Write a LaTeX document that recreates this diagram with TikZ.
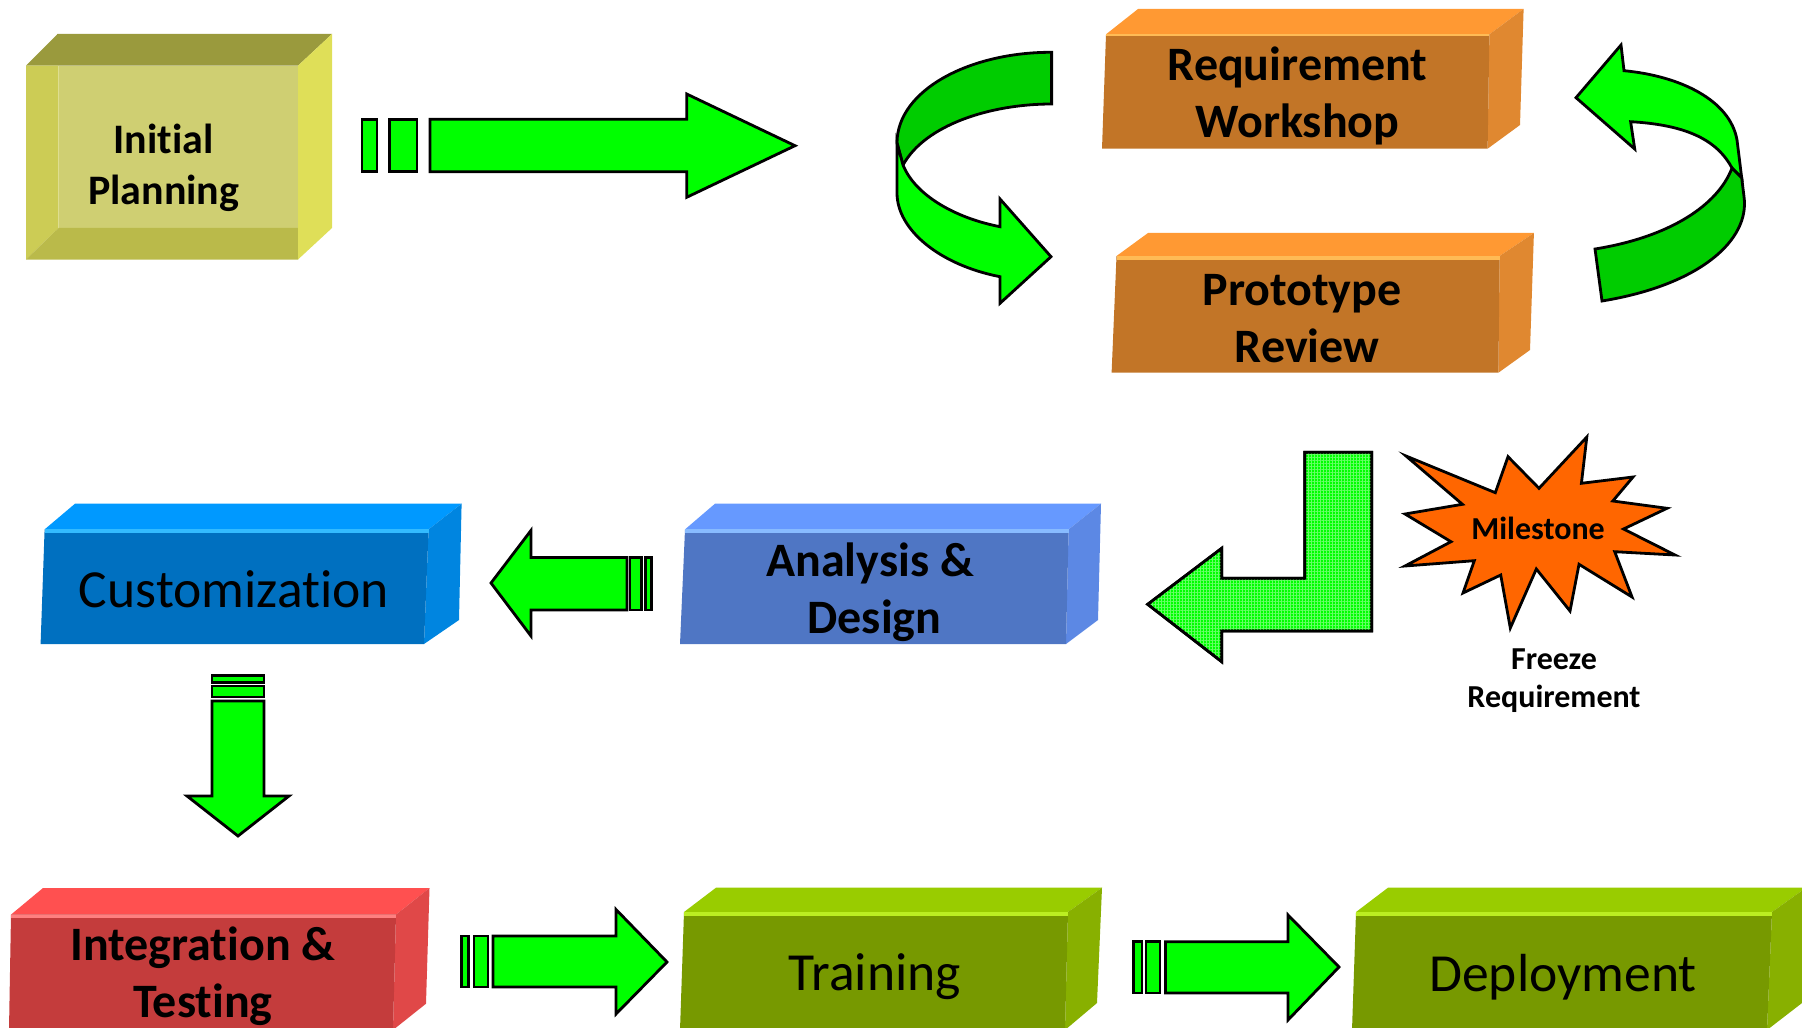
\documentclass[tikz,border=0pt]{standalone}
\usepackage{xcolor}
\usepackage{fontspec}
\setmainfont{Carlito}[Ligatures=NoCommon]
\usetikzlibrary{patterns.meta}
\definecolor{arrowlight}{HTML}{00FF00}
\definecolor{arrowdark}{HTML}{00CC00}
\definecolor{arrowdots}{HTML}{66FF66}
\definecolor{burst}{HTML}{FF6600}
\definecolor{sandfront}{HTML}{CFCF72}
\definecolor{sandtop}{HTML}{9A9A3D}
\definecolor{sandleft}{HTML}{CCCC55}
\definecolor{sandbottom}{HTML}{BABA4A}
\definecolor{sandright}{HTML}{DFDF58}
\definecolor{orangefront}{HTML}{C27527}
\definecolor{orangetop}{HTML}{FF9933}
\definecolor{orangelight}{HTML}{FFBB55}
\definecolor{orangeright}{HTML}{E08830}
\definecolor{bluefront}{HTML}{0070C0}
\definecolor{bluetop}{HTML}{0099FF}
\definecolor{bluelight}{HTML}{33BBFF}
\definecolor{blueright}{HTML}{0085E0}
\definecolor{slatefront}{HTML}{4F76C4}
\definecolor{slatetop}{HTML}{6699FF}
\definecolor{slatelight}{HTML}{88BBFF}
\definecolor{slateright}{HTML}{5C88E4}
\definecolor{redfront}{HTML}{C43C3C}
\definecolor{redtop}{HTML}{FF5050}
\definecolor{redlight}{HTML}{FF8080}
\definecolor{redright}{HTML}{E04848}
\definecolor{limefront}{HTML}{779900}
\definecolor{limetop}{HTML}{99CC00}
\definecolor{limelight}{HTML}{BBEE22}
\definecolor{limeright}{HTML}{88B000}

\begin{document}
\begin{tikzpicture}[x=.5pt, y=-.5pt, line width=1.4,
    flat/.style={draw=black, line join=miter, fill=arrowlight},
    shade/.style={draw=black, fill=arrowdark},
    biglabel/.style={align=center, font=\bfseries\fontsize{24}{28.5}\selectfont},
    thinlabel/.style={align=center, font=\fontsize{26.8}{30}\selectfont}]
    \useasboundingbox (0,0) rectangle (1802,1027);
    \clip (0,0) rectangle (1802,1027);

    \fill[sandfront] (58.6,65.7) rectangle (298,228);
    \fill[sandtop] (26,65.7) -- (57.5,34) -- (332,34) -- (298,65.7) -- cycle;
    \fill[sandleft] (26,65.7) -- (58.6,65.7) -- (58.6,228) -- (26,259.5) -- cycle;
    \fill[sandbottom] (26,259.5) -- (58.6,228) -- (298,228) -- (298,259.5) -- cycle;
    \fill[sandright] (298,65.7) -- (332,34) -- (332,228) -- (298,259.5) -- cycle;
    \node[biglabel, font=\bfseries\fontsize{21}{25.5}\selectfont] (planning) at (163.7,168) {Initial\\Planning};

    \fill[flat] (362,119.3) rectangle (377,171.7);
    \fill[flat] (389.6,119.3) rectangle (417,171.7);
    \fill[flat] (430,119.3) -- (686.7,119.3) -- (686.7,94) -- (795,145.7) -- (686.7,197.3) -- (686.7,171.7) -- (430,171.7) -- cycle;

    \fill[orangetop] (1106,34.3) -- (1138,9) -- (1523.6,9) -- (1489.4,34.3) -- cycle;
    \fill[orangeright] (1489.4,34.3) -- (1523.6,9) -- (1520,125) -- (1487.6,148.7) -- cycle;
    \fill[orangefront] (1106,34.3) -- (1489.4,34.3) -- (1487.6,148.7) -- (1102,148.7) -- cycle;
    \fill[orangelight] (1106,34.3) -- (1489.4,34.3) -- (1489.4,36.5) -- (1106,36.5) -- cycle;
    \node[biglabel] (workshop) at (1297.5,96.3) {Requirement\\Workshop};

    \fill[orangetop] (1116.5,256) -- (1148,233) -- (1533.9,233) -- (1499.6,256) -- cycle;
    \fill[orangeright] (1499.6,256) -- (1533.9,233) -- (1530,350) -- (1498.4,372.7) -- cycle;
    \fill[orangefront] (1116.5,256) -- (1499.6,256) -- (1498.4,372.7) -- (1111.6,372.7) -- cycle;
    \fill[orangelight] (1116.5,256) -- (1499.6,256) -- (1499.6,260) -- (1116.5,260) -- cycle;
    \node[biglabel] (review) at (1302,319) {Prototype\\\hspace*{5pt}Review};

    \filldraw[shade] (1051.6,52.3) .. controls (970,52) and (897,90) .. (897,143) -- (903,165) .. controls (925,125) and (990,104) .. (1051.6,104) -- cycle;
    \filldraw[flat] (897,143) -- (897,193) .. controls (897,230) and (940,265) .. (1000,276.7) -- (1000,303.3) -- (1051,256.7) -- (1000,199) -- (1000,226.7) .. controls (955,218) and (915,195) .. (903,165) -- cycle;

    \filldraw[flat] (1576,97.7) -- (1621,45) -- (1624,70.7) .. controls (1680,76) and (1730,100) .. (1737,140) -- (1741.7,178) -- (1732,168) .. controls (1718,142) and (1690,125) .. (1630.6,121.7) -- (1634.7,149) -- cycle;
    \filldraw[shade] (1732,168) -- (1741.7,178) -- (1744,196.7) .. controls (1750,240) and (1700,285) .. (1602,301) -- (1595,249) .. controls (1670,237) and (1718,205) .. (1732,168) -- cycle;

    \filldraw[flat] (1304.7,452.3) -- (1371.7,452.3) -- (1371.7,631) -- (1221.7,631) -- (1221.7,661.7) -- (1147.7,604.3) -- (1221.7,548.3) -- (1221.7,578.3) -- (1304.7,578.3) -- cycle;
    \fill[pattern={Hatch[angle=0,distance=1.5pt,line width=.15pt]}, pattern color=arrowdots] (1304.7,452.3) -- (1371.7,452.3) -- (1371.7,631) -- (1221.7,631) -- (1221.7,661.7) -- (1147.7,604.3) -- (1221.7,548.3) -- (1221.7,578.3) -- (1304.7,578.3) -- cycle;
    \draw (1304.7,452.3) -- (1371.7,452.3) -- (1371.7,631) -- (1221.7,631) -- (1221.7,661.7) -- (1147.7,604.3) -- (1221.7,548.3) -- (1221.7,578.3) -- (1304.7,578.3) -- cycle;

    \filldraw[draw=black, fill=burst] (1406,456) -- (1495.3,492.7) -- (1508,456.7) -- (1539,488.3) -- (1586.8,437) -- (1581.4,483.3) -- (1633,477) -- (1612.8,501) -- (1667,508.3) -- (1623.5,529) -- (1675,555) -- (1614.7,551.7) -- (1632,597) -- (1579,564.3) -- (1570,611) -- (1536.3,569) -- (1510.3,628) -- (1500.7,575) -- (1463,593) -- (1474.3,560.7) -- (1405,566) -- (1451,541.7) -- (1405,514) -- (1462.4,504.3) -- cycle;
    \node[biglabel, font=\bfseries\fontsize{16}{18}\selectfont] (milestone) at (1538,528) {Milestone};
    \node[biglabel, font=\bfseries\fontsize{16}{19}\selectfont] (freeze) at (1554,681) {Freeze\\Requirement};

    \fill[slatetop] (685,529.4) -- (715,503.7) -- (1101,503.7) -- (1068.6,529.4) -- cycle;
    \fill[slateright] (1068.6,529.4) -- (1101,503.7) -- (1098,620) -- (1066,644) -- cycle;
    \fill[slatefront] (685,529.4) -- (1068.6,529.4) -- (1066,644) -- (680,644) -- cycle;
    \fill[slatelight] (685,529.4) -- (1068.6,529.4) -- (1068.6,532.5) -- (685,532.5) -- cycle;
    \node[biglabel] (design) at (870,592) {Analysis \&\\\hspace*{4.5pt}Design};

    \fill[bluetop] (44.6,529.4) -- (75,503.7) -- (461.6,503.7) -- (428.6,529.4) -- cycle;
    \fill[blueright] (428.6,529.4) -- (461.6,503.7) -- (459,620) -- (424,644) -- cycle;
    \fill[bluefront] (44.6,529.4) -- (428.6,529.4) -- (424,644) -- (40.6,644) -- cycle;
    \fill[bluelight] (44.6,529.4) -- (428.6,529.4) -- (428.6,532.5) -- (44.6,532.5) -- cycle;
    \node[thinlabel] (custom) at (234,589) {Customization};

    \fill[flat] (491,583) -- (531,530.4) -- (531,557.5) -- (627,557.5) -- (627,610) -- (531,610) -- (531,636) -- cycle;
    \fill[flat] (630,557.5) rectangle (641.5,610);
    \fill[flat] (645.5,557.5) rectangle (651.8,610);

    \fill[flat] (212,675.6) rectangle (264,682.5);
    \fill[flat] (212,686) rectangle (264,697);
    \fill[flat] (212,701) -- (264,701) -- (264,796) -- (289,796) -- (238,836) -- (187,796) -- (212,796) -- cycle;

    \fill[redtop] (11,914.6) -- (43,888) -- (429.5,888) -- (396,914.6) -- cycle;
    \fill[redright] (396,914.6) -- (429.5,888) -- (426,1003.7) -- (393,1030) -- cycle;
    \fill[redfront] (11,914.6) -- (396,914.6) -- (393,1030) -- (9,1030) -- cycle;
    \fill[redlight] (11,914.6) -- (396,914.6) -- (396,917.5) -- (11,917.5) -- cycle;
    \node[biglabel] (testing) at (203,976) {Integration \&\\Testing};

    \fill[flat] (461.6,936) rectangle (468.8,987);
    \fill[flat] (474,936) rectangle (488,987);
    \fill[flat] (493,936) -- (616,936) -- (616,909.5) -- (667,962) -- (616,1014) -- (616,987) -- (493,987) -- cycle;

    \fill[limetop] (684,912) -- (716,887.7) -- (1102,887.7) -- (1068,912) -- cycle;
    \fill[limeright] (1068,912) -- (1102,887.7) -- (1097,1003) -- (1065,1030) -- cycle;
    \fill[limefront] (684,912) -- (1068,912) -- (1065,1030) -- (680,1030) -- cycle;
    \fill[limelight] (684,912) -- (1068,912) -- (1068,916) -- (684,916) -- cycle;
    \node[thinlabel] (training) at (875,977) {Training};

    \fill[flat] (1133.4,941.7) rectangle (1142,993);
    \fill[flat] (1146,941.7) rectangle (1160,993);
    \fill[flat] (1165.5,941.7) -- (1288,941.7) -- (1288,915) -- (1339,967) -- (1288,1020) -- (1288,993) -- (1165.5,993) -- cycle;

    \fill[limetop] (1356,912) -- (1388,887.7) -- (1806,887.7) -- (1772,912) -- cycle;
    \fill[limeright] (1772,912) -- (1806,887.7) -- (1802,1003) -- (1767,1030) -- cycle;
    \fill[limefront] (1356,912) -- (1772,912) -- (1767,1030) -- (1352,1030) -- cycle;
    \fill[limelight] (1356,912) -- (1772,912) -- (1772,916) -- (1356,916) -- cycle;
    \node[thinlabel] (deployment) at (1563,977) {Deployment};
\end{tikzpicture}
\end{document}
